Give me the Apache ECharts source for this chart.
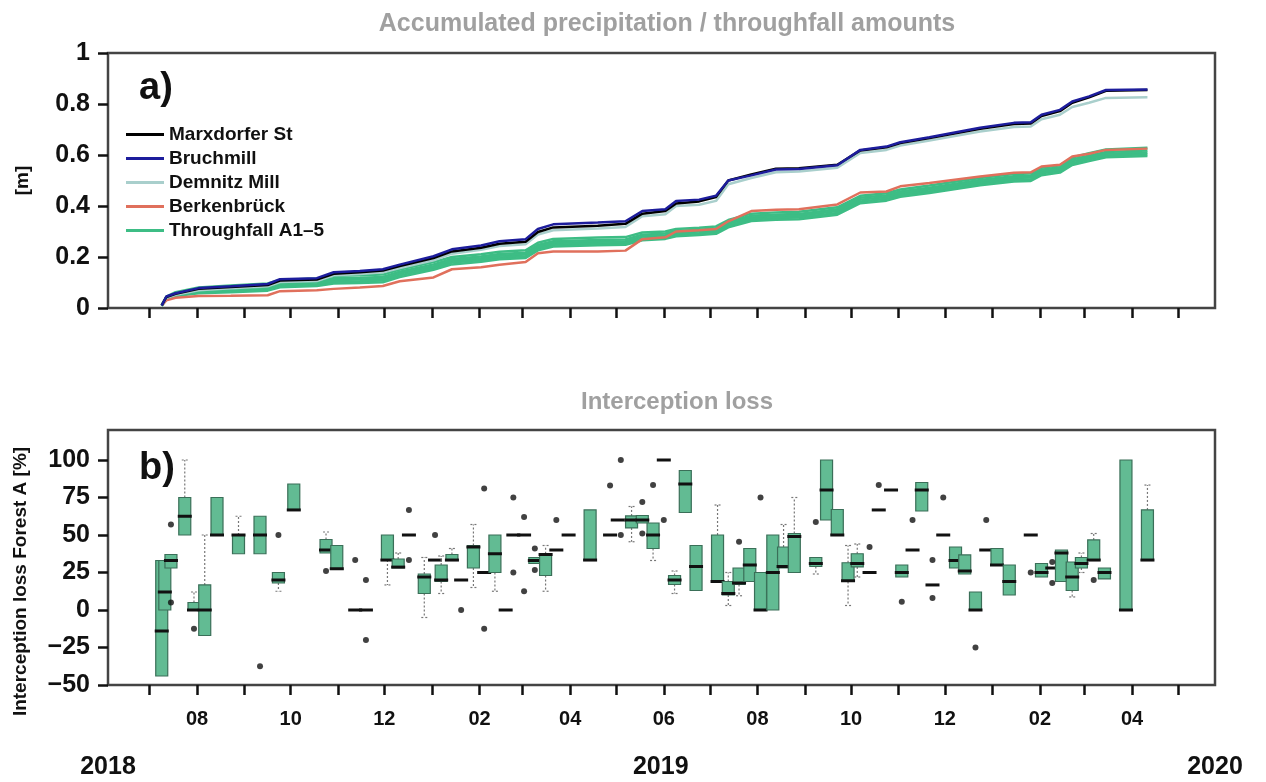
<!DOCTYPE html>
<html><head><meta charset="utf-8">
<script src="https://cdn.jsdelivr.net/npm/echarts@6.0.0/dist/echarts.min.js"></script>
<style>html,body{margin:0;padding:0;background:#fff}#c{width:1266px;height:782px}</style>
</head><body><div id="c"></div>
<script>
const FONT = '"Liberation Sans", Arial, sans-serif';
const axisMin = '2018-06-04';
const axisMax = '2020-05-25';
const monthTicks = ['2018-07-01','2018-08-01','2018-09-01','2018-10-01','2018-11-01','2018-12-01',
  '2019-01-01','2019-02-01','2019-03-01','2019-04-01','2019-05-01','2019-06-01','2019-07-01','2019-08-01',
  '2019-09-01','2019-10-01','2019-11-01','2019-12-01','2020-01-01','2020-02-01','2020-03-01','2020-04-01','2020-05-01'];
const monthLabels = ['2018-08-01','2018-10-01','2018-12-01','2019-02-01','2019-04-01','2019-06-01',
  '2019-08-01','2019-10-01','2019-12-01','2020-02-01','2020-04-01'];
const yearLabelDates = ['2018-06-04','2019-05-30','2020-05-25'];
const yTicksTop = [0, 0.2, 0.4, 0.6, 0.8, 1];
const yTicksBottom = [-50, -25, 0, 25, 50, 75, 100];

// ---- panel a: accumulated amounts [m]
const topDates = ['2018-07-09','2018-07-12','2018-07-18','2018-08-02','2018-08-23','2018-09-16','2018-09-24',
  '2018-10-18','2018-10-29','2018-11-15','2018-11-30','2018-12-11','2019-01-02','2019-01-14','2019-02-02',
  '2019-02-14','2019-03-03','2019-03-11','2019-03-21','2019-04-19','2019-05-07','2019-05-18','2019-06-02',
  '2019-06-09','2019-06-24','2019-07-05','2019-07-13','2019-07-28','2019-08-13','2019-08-28','2019-09-22',
  '2019-10-07','2019-10-24','2019-11-02','2019-11-21','2019-12-24','2020-01-15','2020-01-26','2020-02-02',
  '2020-02-14','2020-02-22','2020-03-04','2020-03-15','2020-04-11'];
const marxdorfer = [0.01,0.043,0.056,0.075,0.082,0.09,0.108,0.112,0.134,0.14,0.147,0.165,0.196,0.222,0.236,0.252,0.26,0.298,0.316,0.323,0.33,0.37,0.38,0.41,0.418,0.435,0.5,0.524,0.546,0.548,0.562,0.618,0.63,0.647,0.667,0.703,0.722,0.724,0.753,0.772,0.805,0.826,0.852,0.855];
const bruchmill = [0.01,0.045,0.058,0.078,0.085,0.094,0.113,0.117,0.14,0.145,0.152,0.17,0.203,0.23,0.245,0.262,0.27,0.31,0.328,0.335,0.34,0.38,0.387,0.42,0.425,0.44,0.5,0.52,0.543,0.545,0.56,0.62,0.633,0.65,0.67,0.707,0.726,0.728,0.758,0.777,0.81,0.83,0.855,0.857];
const demnitz = [0.01,0.04,0.052,0.07,0.077,0.085,0.102,0.106,0.128,0.133,0.14,0.157,0.187,0.213,0.228,0.243,0.25,0.288,0.305,0.312,0.318,0.36,0.368,0.4,0.405,0.42,0.485,0.51,0.532,0.535,0.55,0.608,0.62,0.637,0.657,0.692,0.71,0.712,0.74,0.758,0.788,0.805,0.824,0.826];
const berkenbrueck = [0.01,0.03,0.04,0.047,0.048,0.05,0.066,0.07,0.075,0.08,0.086,0.105,0.12,0.152,0.16,0.17,0.18,0.215,0.222,0.222,0.225,0.27,0.277,0.3,0.305,0.31,0.34,0.38,0.385,0.387,0.406,0.453,0.457,0.477,0.49,0.516,0.53,0.532,0.555,0.562,0.594,0.605,0.62,0.625];
const throughA1 = [0.012,0.045,0.062,0.08,0.088,0.096,0.11,0.116,0.126,0.128,0.131,0.151,0.18,0.2,0.211,0.221,0.226,0.256,0.271,0.276,0.278,0.296,0.3,0.31,0.315,0.32,0.345,0.37,0.375,0.377,0.395,0.44,0.45,0.465,0.48,0.51,0.525,0.527,0.55,0.56,0.59,0.607,0.622,0.628];
const throughA2 = [0.011,0.042,0.058,0.076,0.082,0.089,0.102,0.107,0.117,0.119,0.122,0.142,0.171,0.192,0.202,0.212,0.217,0.247,0.262,0.267,0.269,0.287,0.292,0.302,0.307,0.312,0.337,0.362,0.367,0.369,0.387,0.432,0.442,0.457,0.472,0.502,0.517,0.519,0.542,0.552,0.582,0.597,0.612,0.618];
const throughA3 = [0.01,0.04,0.055,0.07,0.075,0.082,0.095,0.1,0.11,0.112,0.115,0.135,0.164,0.185,0.195,0.205,0.21,0.24,0.255,0.26,0.262,0.28,0.285,0.295,0.3,0.305,0.33,0.355,0.36,0.362,0.38,0.425,0.435,0.45,0.465,0.495,0.51,0.512,0.535,0.545,0.575,0.59,0.605,0.61];
const throughA4 = [0.009,0.037,0.051,0.064,0.068,0.075,0.088,0.093,0.103,0.105,0.108,0.128,0.157,0.178,0.188,0.198,0.203,0.233,0.248,0.253,0.255,0.273,0.278,0.288,0.293,0.298,0.323,0.348,0.353,0.355,0.373,0.418,0.428,0.443,0.458,0.488,0.503,0.505,0.528,0.538,0.568,0.583,0.598,0.603];
const throughA5 = [0.008,0.034,0.047,0.058,0.062,0.068,0.081,0.086,0.096,0.098,0.101,0.121,0.15,0.171,0.181,0.191,0.196,0.226,0.241,0.246,0.248,0.266,0.271,0.281,0.286,0.291,0.316,0.341,0.346,0.348,0.366,0.411,0.421,0.436,0.451,0.481,0.496,0.498,0.521,0.531,0.561,0.576,0.591,0.596];

// ---- panel b: interception loss boxes [min, Q1, median, Q3, max]
const boxDates = ['2018-07-09','2018-07-11','2018-07-15','2018-07-24','2018-07-30','2018-08-06','2018-08-14','2018-08-28',
  '2018-09-11','2018-09-23','2018-10-03','2018-10-24','2018-10-31','2018-11-12','2018-11-19','2018-12-03','2018-12-10',
  '2018-12-17','2018-12-27','2019-01-03','2019-01-07','2019-01-14','2019-01-20','2019-01-28','2019-02-04','2019-02-11',
  '2019-02-18','2019-02-23','2019-03-02','2019-03-09','2019-03-16','2019-03-23','2019-03-31','2019-04-14','2019-04-27',
  '2019-05-02','2019-05-11','2019-05-18','2019-05-25','2019-06-01','2019-06-08','2019-06-15','2019-06-22','2019-07-06',
  '2019-07-13','2019-07-20','2019-07-27','2019-08-03','2019-08-11','2019-08-18','2019-08-25','2019-09-08','2019-09-15',
  '2019-09-22','2019-09-29','2019-10-05','2019-10-13','2019-10-19','2019-10-27','2019-11-03','2019-11-10','2019-11-16',
  '2019-11-23','2019-11-30','2019-12-08','2019-12-14','2019-12-21','2019-12-28','2020-01-04','2020-01-12','2020-01-26',
  '2020-02-02','2020-02-09','2020-02-15','2020-02-22','2020-02-28','2020-03-07','2020-03-14','2020-03-28','2020-04-11'];
const boxStats = [
  [-44,-44,-14,33,33],[0,0,12,33,33],[28,28,33,37,37],[50,50,62.5,75,100],[0,0,0,5,12],[-17,-17,0,16.7,50],
  [50,50,50,75,75],[37.5,37.5,50,50,62.5],[37.5,37.5,50,62.5,62.5],[12.5,18,20,25,25],[66.7,66.7,66.7,84,84],
  [38,38,40,47,52],[27,27,27.5,43,43],[0,0,0,0,0],[0,0,0,0,0],[16.7,33.3,33.3,50,50],[28,28,28.6,34,38],
  [50,50,50,50,50],[-5,11,22,24,35],[33.3,33.3,33.3,33.3,33.3],[11,19,20,30,36],[33,33,33.3,37,41],[20,20,20,20,20],
  [15,28,42,43,57],[25,25,25,25,25],[12.5,25,37.5,50,50],[0,0,0,0,0],[50,50,50,50,50],[50,50,50,50,50],
  [31,31,33,35,35],[12.5,23,37,37.5,43],[40,40,40,40,40],[50,50,50,50,50],[33.3,33.3,33.3,66.7,66.7],
  [50,50,50,50,50],[60,60,60,60,60],[45.5,54.7,60,62.7,69],[58,58,60,63,63],[33,41,50,58,58],[100,100,100,100,100],
  [11,17,20,23,26],[65,65,84,93,93],[13,13,29,43,43],[19,19,19,50,70],[3,10,11,19,25],[9.5,17,18,28,28],
  [19,19,30,41,41],[0,0,0,25,25],[0,0,25,50,50],[28,28,29,42,57],[25,25,49,51,75],[24,29,31,35,35],
  [60,60,80,100,100],[50,50,50,67,67],[3,19,19.5,31.5,43],[22,28.7,31,37.5,44],[25,25,25,25,25],
  [66.7,66.7,66.7,66.7,66.7],[80,80,80,80,80],[22,22,25,30,30],[40,40,40,40,40],[66,66,80,85,85],
  [16.7,16.7,16.7,16.7,16.7],[50,50,50,50,50],[28,28,33,42,42],[24,24,26,36.7,36.7],[0,0,0,12,12],
  [40,40,40,40,40],[30,30,30,41,41],[10,10,19,30,30],[50,50,50,50,50],[22,22,25,31,31],[28,28,28,28,28],
  [19,19,38,40,40],[8.7,13,22,32,32],[25,28,31,35,38],[33.3,33.3,33.3,46.7,51],[20.7,20.7,25,28,28],
  [0,0,0,100,100],[33.3,33.3,33.3,66.7,83.3]];
const outlierDates = ['2018-07-15','2018-07-15','2018-07-30','2018-09-11','2018-09-23','2018-10-24','2018-11-12',
  '2018-11-19','2018-11-19','2018-12-17','2018-12-17','2019-01-03','2019-01-20','2019-02-04','2019-02-04','2019-02-23',
  '2019-02-23','2019-03-02','2019-03-02','2019-03-09','2019-03-09','2019-03-23','2019-04-27','2019-05-04','2019-05-04',
  '2019-05-18','2019-05-18','2019-05-25','2019-06-01','2019-07-20','2019-08-03','2019-09-08','2019-10-13','2019-10-19',
  '2019-11-03','2019-11-10','2019-11-23','2019-11-23','2019-11-30','2019-12-21','2019-12-28','2020-01-26','2020-02-09',
  '2020-02-09','2020-03-07'];
const outlierValues = [57,5,-12.5,-37.5,50,26,33.3,20,-20,66.7,33.3,50,0,81,-12.5,75,25,62,12.5,41,26.7,60,83,100,50,
  72,51,83.3,60,45.5,75,58.7,42,83.3,5.5,60,33.3,8,75,-25,60,25,32,18,20];

const legendNames = ['Marxdorfer St','Bruchmill','Demnitz Mill','Berkenbrück','Throughfall A1\u20135'];
const TF = legendNames[4];

const T = s => Date.parse(s); // UTC midnight timestamp
const fmtMonth = v => String(new Date(v).getUTCMonth()+1).padStart(2,'0');
const fmtYear = v => String(new Date(v).getUTCFullYear());
const fmtNum = v => String(v).replace('-', '\u2212');

function lineSeries(name, vals, color, width, z) {
  return {type:'line', name, xAxisIndex:0, yAxisIndex:0, z,
    data: topDates.map((d,i)=>[T(d), vals[i]]), symbol:'none', showSymbol:false,
    lineStyle:{color, width}, itemStyle:{color}, animation:false};
}
function dateAxis(gridIndex, showLabels) {
  return {type:'value', gridIndex, min:T(axisMin), max:T(axisMax), scale:true,
    axisLine:{show:false, onZero:false}, splitLine:{show:false}, minorTick:{show:false},
    axisTick:{show:true, customValues:monthTicks.map(T), length:10, lineStyle:{color:'#111', width:2.5}},
    axisLabel: showLabels ? {customValues:monthLabels.map(T), margin:24, color:'#111', fontSize:20, fontWeight:'bold', fontFamily:FONT,
      formatter: fmtMonth} : {show:false}};
}
function valueAxis(gridIndex, min, max, ticks, name, nameGap, namePad) {
  return {type:'value', gridIndex, min, max, name, nameLocation:'middle', nameGap,
    nameTextStyle:{fontSize:19, fontWeight:'bold', color:'#111', fontFamily:FONT, padding:namePad},
    axisLine:{show:false, onZero:false}, splitLine:{show:false},
    axisTick:{show:true, customValues:ticks, length:10, lineStyle:{color:'#111', width:2.5}},
    axisLabel:{customValues:ticks, margin:18, fontSize:25, fontWeight:'bold', color:'#111', fontFamily:FONT, formatter:fmtNum}};
}
const gridStyle = {show:true, borderColor:'#444', borderWidth:2.5, left:108, right:51};

const chart = echarts.init(document.getElementById('c'), null, {renderer:'canvas'});
chart.setOption({
  backgroundColor:'#fff',
  animation:false,
  textStyle:{fontFamily:FONT},
  title:[
    {text:'Accumulated precipitation / throughfall amounts', left:662, top:7, textAlign:'center',
     textStyle:{fontSize:25, fontWeight:'bold', color:'#a0a0a0', fontFamily:FONT}},
    {text:'Interception loss', left:672, top:385, textAlign:'center',
     textStyle:{fontSize:24, fontWeight:'bold', color:'#a0a0a0', fontFamily:FONT}}
  ],
  graphic:[
    {type:'text', left:139, top:70, style:{text:'a)', font:'bold 38px '+FONT, fill:'#111'}},
    {type:'text', left:139, top:450, style:{text:'b)', font:'bold 38px '+FONT, fill:'#111'}}
  ],
  legend:{data:legendNames, orient:'vertical', left:121, top:120, icon:'rect', itemWidth:38, itemHeight:3,
    itemGap:5, selectedMode:false, textStyle:{fontSize:19, fontWeight:'bold', color:'#111', fontFamily:FONT}},
  grid:[
    Object.assign({top:53, height:255}, gridStyle),
    Object.assign({top:430, height:255}, gridStyle)
  ],
  xAxis:[
    dateAxis(0,false),
    dateAxis(1,true),
    {type:'value', gridIndex:1, min:T(axisMin), max:T(axisMax), scale:true, position:'bottom',
     axisLine:{show:false, onZero:false}, axisTick:{show:false}, splitLine:{show:false},
     axisLabel:{customValues:yearLabelDates.map(T), margin:70, color:'#111', fontSize:25, fontWeight:'bold', fontFamily:FONT,
       formatter: fmtYear}}
  ],
  yAxis:[
    valueAxis(0, 0, 1, yTicksTop, '[m]', 76, [0,0,0,0]),
    valueAxis(1, -50, 120, yTicksBottom, 'Interception loss Forest A [%]', 78, [0,48,0,0])
  ],
  series:[
    lineSeries(TF, throughA1, '#3dbd85', 2.5, 2),
    lineSeries(TF, throughA2, '#3dbd85', 2.5, 2),
    lineSeries(TF, throughA3, '#3dbd85', 2.5, 2),
    lineSeries(TF, throughA4, '#3dbd85', 2.5, 2),
    lineSeries(TF, throughA5, '#3dbd85', 2.5, 2),
    lineSeries('Berkenbrück', berkenbrueck, '#e0705c', 2.5, 3),
    lineSeries('Demnitz Mill', demnitz, '#a9cfcc', 2.5, 3),
    lineSeries('Marxdorfer St', marxdorfer, '#000000', 2.5, 4),
    lineSeries('Bruchmill', bruchmill, '#1d1d9c', 2.5, 5),
    {type:'custom', xAxisIndex:1, yAxisIndex:1, clip:true, z:3,
     dimensions:['date','min','q1','med','q3','max'],
     encode:{x:0, y:[1,2,3,4,5]},
     data: boxDates.map((d,i)=>[T(d)].concat(boxStats[i])),
     renderItem(params, api) {
       const x = api.value(0);
       const mn = api.value(1), q1 = api.value(2), md = api.value(3), q3 = api.value(4), mx = api.value(5);
       const pMin = api.coord([x,mn]), pQ1 = api.coord([x,q1]), pMd = api.coord([x,md]), pQ3 = api.coord([x,q3]), pMx = api.coord([x,mx]);
       const cx = pMd[0], hw = 6;
       const wh = {stroke:'#777', lineWidth:1.2, lineDash:[2,2]};
       const ch = [];
       if (mx > q3) {
         ch.push({type:'line', shape:{x1:cx, y1:pQ3[1], x2:cx, y2:pMx[1]}, style:wh});
         ch.push({type:'line', shape:{x1:cx-3, y1:pMx[1], x2:cx+3, y2:pMx[1]}, style:wh});
       }
       if (mn < q1) {
         ch.push({type:'line', shape:{x1:cx, y1:pQ1[1], x2:cx, y2:pMin[1]}, style:wh});
         ch.push({type:'line', shape:{x1:cx-3, y1:pMin[1], x2:cx+3, y2:pMin[1]}, style:wh});
       }
       if (q3 > q1) {
         ch.push({type:'rect', shape:{x:cx-hw, y:pQ3[1], width:2*hw, height:pQ1[1]-pQ3[1]},
           style:{fill:'#62bb93', stroke:'#3a6f58', lineWidth:1.2}});
       }
       ch.push({type:'line', shape:{x1:cx-7, y1:pMd[1], x2:cx+7, y2:pMd[1]}, style:{stroke:'#111', lineWidth:3}});
       return {type:'group', children:ch};
     }},
    {type:'scatter', xAxisIndex:1, yAxisIndex:1, z:4, symbol:'circle', symbolSize:6,
     itemStyle:{color:'#111'}, data: outlierDates.map((d,i)=>[T(d), outlierValues[i]])}
  ]
});
</script>
</body></html>
